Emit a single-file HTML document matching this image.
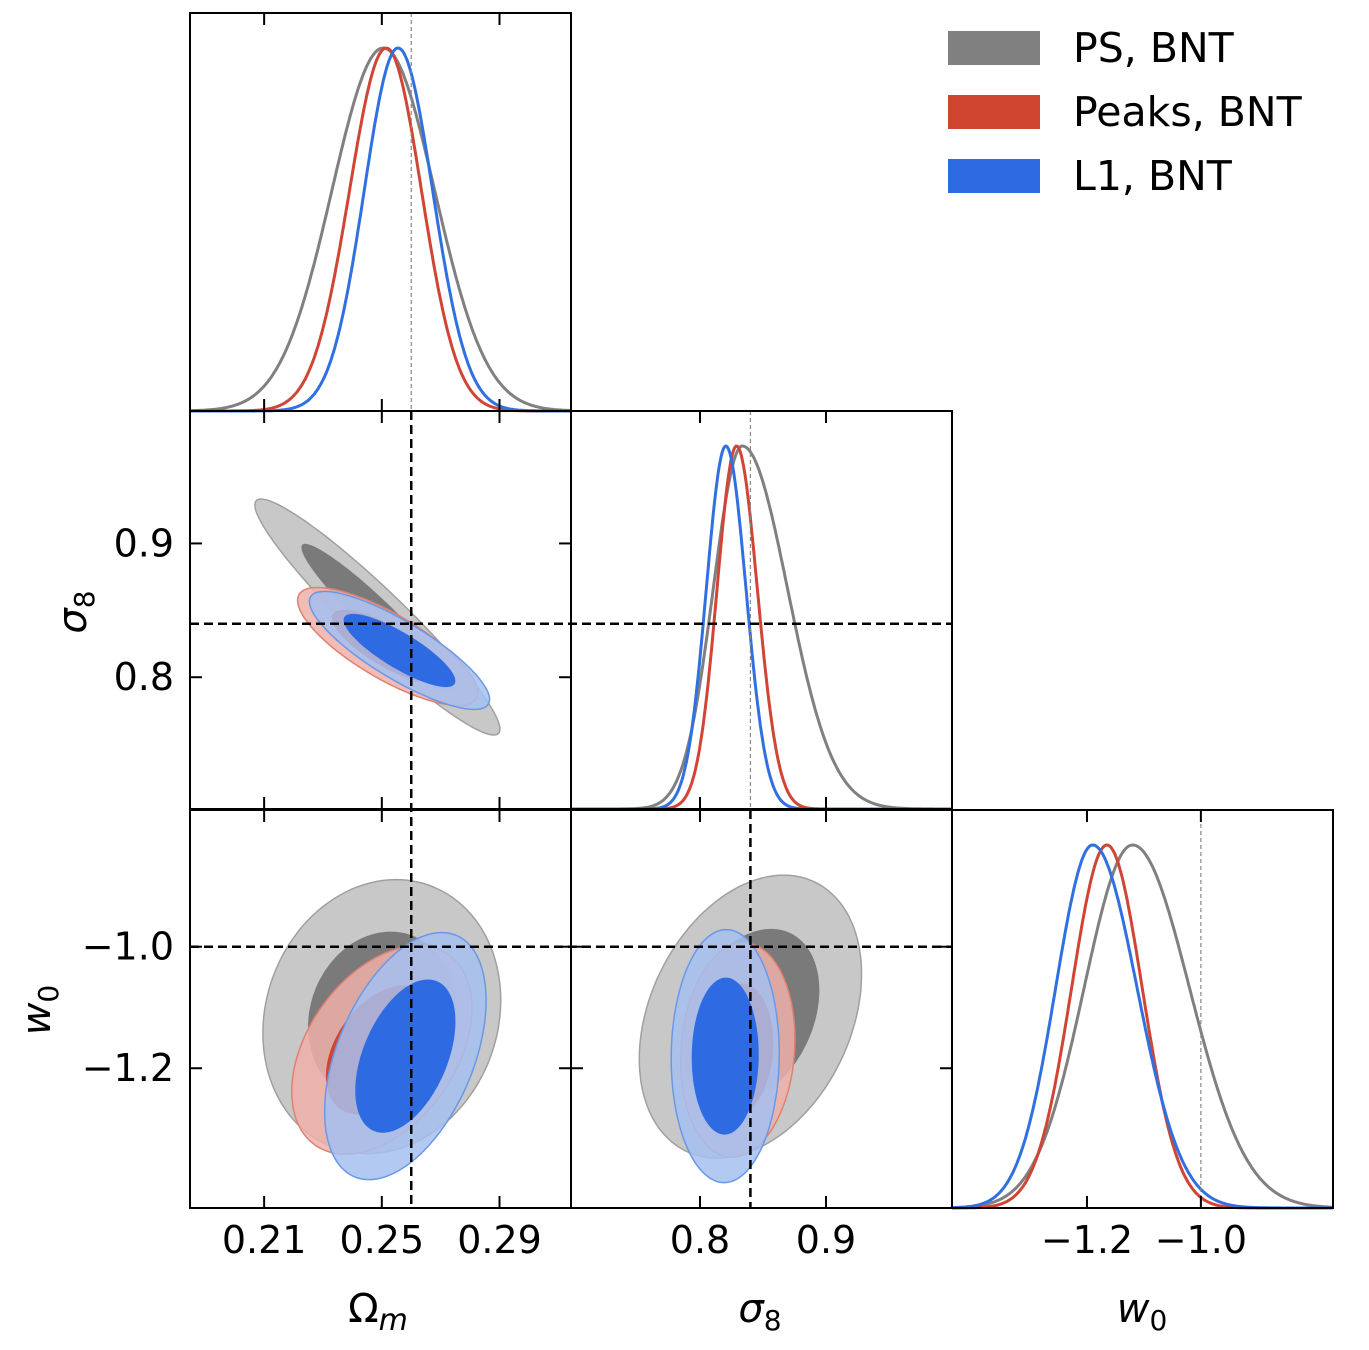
<!DOCTYPE html>
<html><head><meta charset="utf-8"><style>
html,body{margin:0;padding:0;background:#fff;}
svg{display:block;font-family:"DejaVu Sans","Liberation Sans",sans-serif;}
</style></head><body>
<svg id="c" width="1369" height="1350" viewBox="0 0 1369 1350"></svg>
<script>
// ---- data ----
const seriesNames=["PS, BNT","Peaks, BNT","L1, BNT"];
const truthVals=[0.26,0.84,-1.0];
// 1D marginals: [mean, sigmaLeft, sigmaRight] per series
const omMarg=[[0.2505,0.0175,0.0175],[0.2515,0.0125,0.0120],[0.2555,0.0115,0.0118]];
const s8Marg=[[0.8335,0.023,0.036],[0.829,0.0155,0.0165],[0.8205,0.0155,0.0160]];
const w0Marg=[[-1.120,0.085,0.100],[-1.165,0.062,0.062],[-1.190,0.065,0.078]];
// 2D contours: [meanX, meanY, sigX, sigY, corr]
const omS8=[[0.2485,0.845,0.017,0.036,-0.95],[0.252,0.823,0.0125,0.018,-0.78],[0.256,0.820,0.0125,0.018,-0.83]];
const omW0=[[0.250,-1.115,0.0165,0.092,0.12],[0.250,-1.170,0.0125,0.070,0.40],[0.258,-1.180,0.0112,0.083,0.45]];
const s8W0=[[0.840,-1.115,0.036,0.095,0.30],[0.830,-1.170,0.0185,0.072,0.10],[0.820,-1.180,0.0175,0.085,0.02]];
const omTicks=[0.21,0.25,0.29], s8Ticks=[0.8,0.9], w0Ticks=[-1.2,-1.0];
const omTickLabels=["0.21","0.25","0.29"], s8TickLabels=["0.8","0.9"], w0TickLabels=["\u22121.2","\u22121.0"];
// ---- styles ----
const lineCol=["#808080","#d04535","#3070e0"];
const outerFill=["#c8c8c8","#efb0a8","#a4c0f0"], innerFill=["#7a7a7a","#d04530","#2e6be2"];
const outerOpacity=[1,0.85,0.85], edgeCol=["#a0a0a0","#e08070","#6a98e8"];
const NS="http://www.w3.org/2000/svg", svg=document.getElementById('c');
function el(t,a,p){const e=document.createElementNS(NS,t);for(const k in a)e.setAttribute(k,a[k]);(p||svg).appendChild(e);return e;}
const cols=[190,571,952], rows=[13,411,810], W=381, H=398;
const ax={om:[0.1848,0.3143],s8:[0.6976,1.0],w0:[-1.437,-0.768]};
const ayS8=[0.7015,0.999], ayW0=[-1.43,-0.775];
function sx(v,r,c){return c+(v-r[0])/(r[1]-r[0])*W;}
function sy(v,r,t){return t+H-(v-r[0])/(r[1]-r[0])*H;}
function marg(list,rng,c,t,name){
 list.forEach((m,i)=>{let d="";for(let k=0;k<=300;k++){const x=rng[0]+(rng[1]-rng[0])*k/300;const s=x<m[0]?m[1]:m[2];const y=Math.exp(-0.5*((x-m[0])/s)**2);d+=(k?"L":"M")+sx(x,rng,c).toFixed(1)+","+(t+H-y*(H-35)).toFixed(1);}
  const p=el('path',{d:d,fill:'none',stroke:lineCol[i],'stroke-width':3});
  });
}
function ell(m,r,rx,ry,c,t){let d="";const a=Math.sqrt((1+m[4])/2),b=Math.sqrt((1-m[4])/2);
 for(let k=0;k<=120;k++){const th=2*Math.PI*k/120;const u=Math.cos(th),v=Math.sin(th);
  const zx=a*u+b*v, zy=a*u-b*v;const x=m[0]+r*m[2]*zx, y=m[1]+r*m[3]*zy;
  d+=(k?"L":"M")+sx(x,rx,c).toFixed(1)+","+sy(y,ry,t).toFixed(1);}return d+"Z";}
function cont(list,rx,ry,c,t,name){
 const g=el('g',{});
 list.forEach((m,i)=>{el('path',{d:ell(m,2.45,rx,ry,c,t),fill:outerFill[i],'fill-opacity':outerOpacity[i],stroke:edgeCol[i],'stroke-width':1.5},g);
  el('path',{d:ell(m,1.52,rx,ry,c,t),fill:innerFill[i],stroke:'none'},g);});
}
marg(omMarg,ax.om,cols[0],rows[0],'om-marginal');
marg(s8Marg,ax.s8,cols[1],rows[1],'s8-marginal');
marg(w0Marg,ax.w0,cols[2],rows[2],'w0-marginal');
cont(omS8,ax.om,ayS8,cols[0],rows[1],'om-s8-contours');
cont(omW0,ax.om,ayW0,cols[0],rows[2],'om-w0-contours');
cont(s8W0,ax.s8,ayW0,cols[1],rows[2],'s8-w0-contours');
function ln(x1,y1,x2,y2,o,name){const l=el('line',Object.assign({x1:x1,y1:y1,x2:x2,y2:y2},o));}
const thin={stroke:'#888','stroke-width':1.2,'stroke-dasharray':'4,3'}, thick={stroke:'#000','stroke-width':2.5,'stroke-dasharray':'9,5'};
ln(sx(truthVals[0],ax.om,190),13,sx(truthVals[0],ax.om,190),411,thin,'truth-om-marg');
ln(sx(truthVals[1],ax.s8,571),411,sx(truthVals[1],ax.s8,571),810,thin,'truth-s8-marg');
ln(sx(truthVals[2],ax.w0,952),810,sx(truthVals[2],ax.w0,952),1209,thin,'truth-w0-marg');
ln(sx(truthVals[0],ax.om,190),411,sx(truthVals[0],ax.om,190),1209,thick,'truth-om');
ln(190,sy(truthVals[1],ayS8,411),952,sy(truthVals[1],ayS8,411),thick,'truth-s8-h');
ln(sx(truthVals[1],ax.s8,571),810,sx(truthVals[1],ax.s8,571),1209,thick,'truth-s8-v');
ln(190,sy(truthVals[2],ayW0,810),952,sy(truthVals[2],ayW0,810),thick,'truth-w0-h');
const panels=[[0,0,'om',null],[0,1,'om','s8'],[1,1,'s8',null],[0,2,'om','w0'],[1,2,'s8','w0'],[2,2,'w0',null]];
const tk={om:omTicks,s8:s8Ticks,w0:w0Ticks}, tl={om:omTickLabels,s8:s8TickLabels,w0:w0TickLabels};
panels.forEach(([ci,ri,xk,yk])=>{const c=cols[ci],t=rows[ri];
 const r=el('rect',{x:c,y:t,width:W,height:H,fill:'none',stroke:'#000','stroke-width':2});
 
 tk[xk].forEach((v,j)=>{const x=sx(v,ax[xk],c);el('line',{x1:x,y1:t+H,x2:x,y2:t+H-12,stroke:'#000','stroke-width':2});el('line',{x1:x,y1:t,x2:x,y2:t+12,stroke:'#000','stroke-width':2});
  if(ri==2){const tx=el('text',{x:x,y:1253,'font-size':38,'text-anchor':'middle'});tx.textContent=tl[xk][j];}});
 if(yk){const ry=yk=='s8'?ayS8:ayW0;tk[yk].forEach((v,j)=>{const y=sy(v,ry,t);el('line',{x1:c,y1:y,x2:c+12,y2:y,stroke:'#000','stroke-width':2});el('line',{x1:c+W,y1:y,x2:c+W-12,y2:y,stroke:'#000','stroke-width':2});
  if(ci==0){const tx=el('text',{x:174,y:y+13,'font-size':38,'text-anchor':'end'});tx.textContent=tl[yk][j];}});}
});
function lab(x,y,html,name,rot){const t=el('text',{x:x,y:y,'font-size':40,'text-anchor':'middle'});if(rot)t.setAttribute('transform','rotate(-90 '+x+' '+y+')');t.innerHTML=html;}
lab(378,1322,'Ω<tspan font-style="italic" font-size="30" dy="8">m</tspan>','x-label-omega-m');
lab(760,1322,'<tspan font-style="italic">σ</tspan><tspan font-size="28" dy="8">8</tspan>','x-label-sigma8');
lab(1142,1322,'<tspan font-style="italic">w</tspan><tspan font-size="28" dy="8">0</tspan>','x-label-w0');
lab(86,612,'<tspan font-style="italic">σ</tspan><tspan font-size="28" dy="8">8</tspan>','y-label-sigma8',true);
lab(50,1010,'<tspan font-style="italic">w</tspan><tspan font-size="28" dy="8">0</tspan>','y-label-w0',true);
const legCols=["#808080","#d04530","#2e6be2"];
seriesNames.forEach((n,i)=>{const y=31+i*64;
 const r=el('rect',{x:948,y:y,width:92,height:34,fill:legCols[i]});
 const t=el('text',{x:1073,y:y+31,'font-size':41});t.textContent=n;});
</script>
</body></html>
